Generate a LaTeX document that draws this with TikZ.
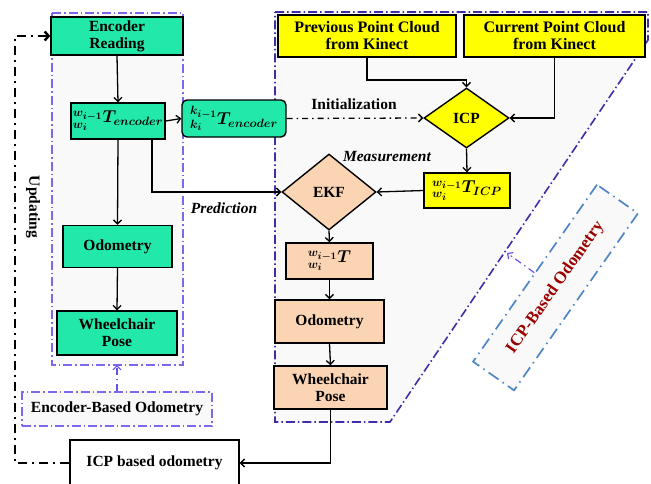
\documentclass[tikz,border=0pt]{standalone}
\usepackage{fontspec}
\setmainfont{Liberation Serif}
\usetikzlibrary{arrows.meta,shapes.geometric,calc}
\DeclareMathSizes{17}{17}{12.5}{10}
\definecolor{grn}{HTML}{22E8AA}
\definecolor{yel}{HTML}{FFFF00}
\definecolor{org}{HTML}{FBD4B4}
\definecolor{bgg}{HTML}{F9F9F9}
\definecolor{encbd}{HTML}{7B68EE}
\definecolor{icpbd}{HTML}{3E2FA8}
\definecolor{stb}{HTML}{4F86C6}
\definecolor{dred}{HTML}{9A0000}
\begin{document}
\begin{tikzpicture}[x=1pt,y=-1pt,
  txt/.style={font=\fontsize{15.5}{18}\selectfont\bfseries, align=center},
  box/.style={txt, draw=black, line width=1.4pt, inner sep=0pt},
  gbox/.style={box, fill=grn},
  ybox/.style={box, fill=yel},
  obox/.style={box, fill=org},
  dia/.style={txt, draw=black, line width=1.4pt, diamond, inner sep=0pt},
  arr/.style={-{Straight Barb[length=4pt,width=8pt]}, line width=1.3pt, black},
  ddot/.style={dash pattern=on 9pt off 3pt on 1.5pt off 3pt},
  mbox/.style={box, font=\fontsize{17}{20}\selectfont\boldmath}
]
\useasboundingbox (0,0) rectangle (651,483);
\fill[white] (0,0) rectangle (651,483);

% background groups
\draw[fill=bgg, draw=encbd, line width=1.5pt, ddot] (52,13) rectangle (183,365);
\draw[fill=bgg, draw=icpbd, line width=1.6pt, ddot] (275,12) -- (648,12) -- (648,40) -- (390,422) -- (275,422) -- cycle;

% ICP-based odometry group label
\node[draw=stb, fill=bgg, line width=1.7pt, dash pattern=on 12pt off 5pt on 1.5pt off 5pt,
      rotate=55, minimum width=216pt, minimum height=50pt, inner sep=0pt] (icpgrp) at (555.5,287.5) {};
\node[rotate=55, txt, font=\fontsize{17}{20}\selectfont\bfseries, text=dred] (icpgrpl) at (555.5,287.5) {ICP-Based Odometry};
\coordinate (polyhit) at (507,253);
\draw[-{Straight Barb[length=4pt,width=8pt]}, draw=encbd!80!blue, line width=1.2pt, dash pattern=on 7pt off 4pt on 1.5pt off 4pt] (icpgrp.north) -- (polyhit);

% encoder side nodes
\node[gbox, minimum width=132pt, minimum height=38pt] (enc) at (117,36) {Encoder\\[-1pt]Reading};
\node[mbox, fill=grn, minimum width=94pt, minimum height=36pt] (wte) at (118,121) {${}^{w_{i-1}}_{w_i}T_{encoder}$};
\node[mbox, fill=grn, rounded corners=5pt, minimum width=104pt, minimum height=37pt] (kte) at (234,118.5) {${}^{k_{i-1}}_{k_i}T_{encoder}$};
\node[gbox, minimum width=109pt, minimum height=42pt] (odoL) at (117.5,246.5) {Odometry};
\node[gbox, minimum width=120pt, minimum height=44pt] (wpL) at (117,333) {Wheelchair\\[-1pt]Pose};
\node[txt, draw=encbd, fill=bgg, line width=1.5pt, ddot, minimum width=190pt, minimum height=34pt, inner sep=0pt] (ebo) at (117,409) {Encoder-Based Odometry};
\coordinate (encbot) at (117,365);
\node[box, fill=white, minimum width=169pt, minimum height=46pt] (icpo) at (154.5,463) {ICP based odometry};
\node[txt, rotate=-90] (upd) at (33,207) {Updating};

% ICP side nodes
\node[ybox, font=\fontsize{16}{18}\selectfont\bfseries, minimum width=178pt, minimum height=42pt] (prev) at (367,36) {Previous Point Cloud\\[-1pt]from Kinect};
\node[ybox, font=\fontsize{16}{18}\selectfont\bfseries, minimum width=181pt, minimum height=42pt] (curr) at (554.5,36) {Current Point Cloud\\[-1pt]from Kinect};
\node[dia, fill=yel, minimum width=85pt, minimum height=60pt, aspect=1.4] (icp) at (466.5,118) {ICP};
\node[mbox, fill=yel, minimum width=86pt, minimum height=35pt] (wticp) at (467,190.5) {${}^{w_{i-1}}_{w_i}T_{ICP}$};
\node[dia, fill=org, minimum width=94pt, minimum height=76pt, aspect=1.24] (ekf) at (329,192) {EKF};
\node[mbox, fill=org, minimum width=87pt, minimum height=36pt] (wto) at (329.5,261) {${}^{w_{i-1}}_{w_i}T$};
\node[obox, minimum width=109pt, minimum height=43pt] (odoR) at (329.5,321.5) {Odometry};
\node[obox, minimum width=113pt, minimum height=43pt] (wpR) at (330.5,387.5) {Wheelchair\\[-1pt]Pose};

% labels
\node[txt] (initl) at (354,104) {Initialization};
\node[txt, font=\fontsize{15.5}{18}\selectfont\bfseries\itshape] (meas) at (387,157) {Measurement};
\node[txt, font=\fontsize{15.5}{18}\selectfont\bfseries\itshape] (pred) at (224,208) {Prediction};

% connectors
\draw[arr] (enc.south) -- (wte.north);
\draw[arr] (wte.east) -- (kte.west);
\draw[arr] (wte.south) -- (odoL.north);
\draw[arr] (odoL.south) -- (wpL.north);
\draw[arr] ($(wte.south)+(34,0)$) |- (ekf.west);
\draw[-{Straight Barb[length=4pt,width=8pt]}, draw=encbd!80!blue, line width=1.2pt, dash pattern=on 7pt off 4pt on 1.5pt off 4pt] (ebo.north) -- (encbot);
\coordinate (prevturn) at (466.5,80);
\draw[arr] (prev.south) |- (prevturn) -- (icp.north);
\draw[arr] (curr.south) |- (icp.east);
\draw[arr, dash pattern=on 6pt off 4pt on 1.5pt off 4pt] (kte.east) -- (icp.west);
\draw[arr] (icp.south) -- (wticp.north);
\draw[arr] (wticp.west) -- (ekf.east);
\draw[arr] (ekf.south) -- (wto.north);
\draw[arr] (wto.south) -- (odoR.north);
\draw[arr] (odoR.south) -- (wpR.north);
\draw[arr] (wpR.south) |- (icpo.east);
\coordinate (ul) at (15,463);
\coordinate (tl) at (15,36);
\draw[-{Straight Barb[length=4pt,width=9pt]}, line width=2.4pt, dash pattern=on 9pt off 5pt on 2pt off 5pt] (icpo.west) -- (ul) -- (tl) -- (enc.west);
\end{tikzpicture}
\end{document}
